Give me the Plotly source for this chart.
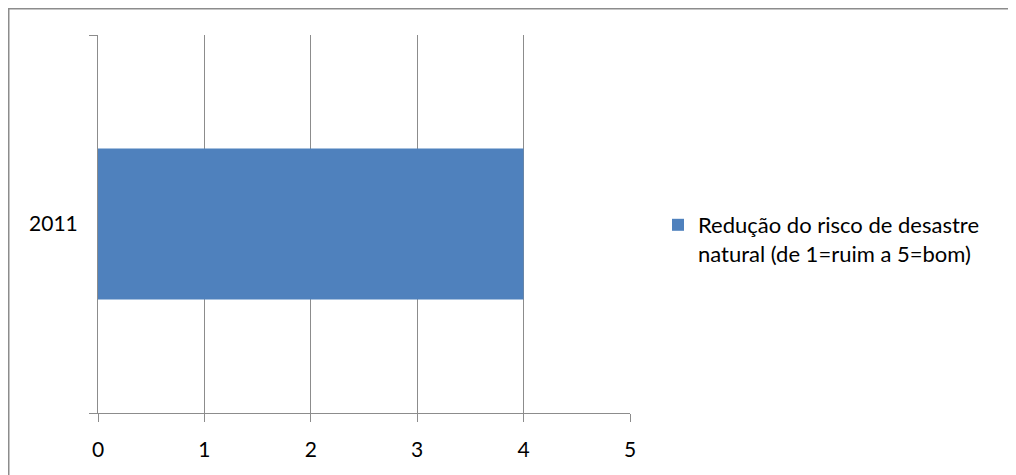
import plotly.graph_objects as go

# data
anos = ["2011"]
valores = [4]
serie = "Redução do risco de desastre<br>natural (de 1=ruim a 5=bom)"

# the page adds an 8px body margin, so figure pixels = screen pixels - 8
W, H = 1008, 467
L, R, T, B = 90, 386, 27, 62
pw, ph = W - L - R, H - T - B

def px_x(p):
    return (p - L) / pw

def px_y(p):
    return (H - B - p) / ph

fig = go.Figure(go.Bar(
    y=anos, x=valores, orientation="h", name=serie,
    marker=dict(color="#4f81bd", line=dict(width=0)),
    width=0.4,
))

# outer chart border: only top and left edges are visible in the picture
borda = dict(type="line", xref="paper", yref="paper",
             line=dict(color="#8c8c8c", width=2), layer="below")

fig.update_layout(
    width=W, height=H,
    margin=dict(l=L, r=R, t=T, b=B),
    plot_bgcolor="white", paper_bgcolor="white",
    font=dict(family="Lato", size=21, color="#000000"),
    showlegend=True,
    legend=dict(
        x=px_x(650), y=px_y(196), xanchor="left", yanchor="top",
        valign="top", font=dict(size=22), itemwidth=30,
    ),
    xaxis=dict(
        range=[0, 5], dtick=1, showgrid=True, gridcolor="#8c8c8c", gridwidth=1,
        showline=True, linecolor="#8c8c8c", linewidth=1,
        ticks="outside", ticklen=8, tickcolor="#8c8c8c", zeroline=False,
        ticklabelstandoff=10, fixedrange=True,
    ),
    yaxis=dict(
        type="category", range=[-0.5, 0.5], showgrid=False,
        showline=True, linecolor="#8c8c8c", linewidth=1,
        ticks="outside", tickson="boundaries", ticklen=8, tickcolor="#8c8c8c",
        ticklabelstandoff=15,
    ),
    shapes=[
        dict(borda, x0=px_x(0), x1=px_x(W), y0=px_y(0.5), y1=px_y(0.5)),
        dict(borda, x0=px_x(0.5), x1=px_x(0.5), y0=px_y(0), y1=px_y(H)),
    ],
)

fig.write_html("out.html", config={"displayModeBar": False})
